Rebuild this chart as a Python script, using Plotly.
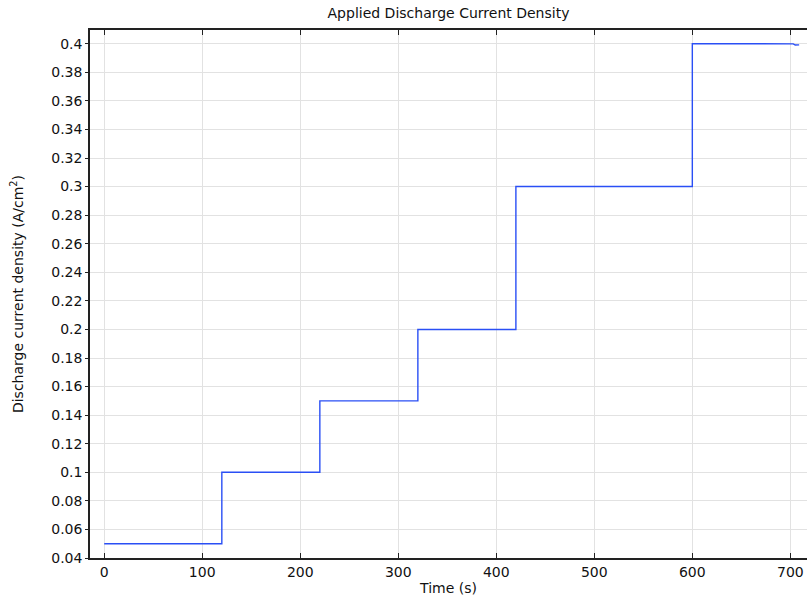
import plotly.graph_objs as go

# step profile of the applied current density
time_s = [0, 120, 120, 220, 220, 320, 320, 420, 420, 600, 600, 680, 700, 703, 705, 707, 709]
current_density = [0.05, 0.05, 0.1, 0.1, 0.15, 0.15, 0.2, 0.2, 0.3, 0.3, 0.4, 0.3998, 0.3997, 0.3999, 0.3991, 0.3994, 0.3992]

x_ticks = [0, 100, 200, 300, 400, 500, 600, 700]
y_ticks = [round(0.04 + 0.02 * i, 2) for i in range(19)]
y_labels = ['%g' % v for v in y_ticks]

font = dict(family='DejaVu Sans', size=14, color='#111')

fig = go.Figure(
    data=[go.Scatter(x=time_s, y=current_density, mode='lines',
                     line=dict(color='#2a4ff5', width=1.4), showlegend=False)],
    layout=go.Layout(
        width=807, height=600,
        paper_bgcolor='white', plot_bgcolor='white',
        font=font,
        margin=dict(l=90, r=0, t=30, b=42),
        title=dict(text='Applied Discharge Current Density', x=0.5, xref='paper',
                   y=0.978, yanchor='middle', font=dict(family='DejaVu Sans', size=14)),
        xaxis=dict(
            range=[-14.5, 717], tickvals=x_ticks, ticks='inside', ticklen=5,
            tickcolor='#222', showline=True, linecolor='#222', linewidth=1.5,
            mirror='ticks', showgrid=True, gridcolor='#e2e2e2', gridwidth=1,
            zeroline=False, tickfont=dict(size=14),
            title=dict(text='Time (s)', standoff=5, font=dict(size=14)),
        ),
        yaxis=dict(
            range=[0.04, 0.4096], tickvals=y_ticks, ticktext=y_labels,
            ticks='outside', ticklen=3, tickcolor='#222', showline=True,
            linecolor='#222', linewidth=1.5, mirror=False, showgrid=True,
            gridcolor='#e2e2e2', gridwidth=1, zeroline=False, tickfont=dict(size=14),
            title=dict(text='Discharge current density (A/cm<sup>2</sup>)', standoff=24,
                       font=dict(size=14)),
        ),
    )
)

fig.write_html("out.html", config={'displayModeBar': False},
               post_script="document.body.style.margin='0';")
